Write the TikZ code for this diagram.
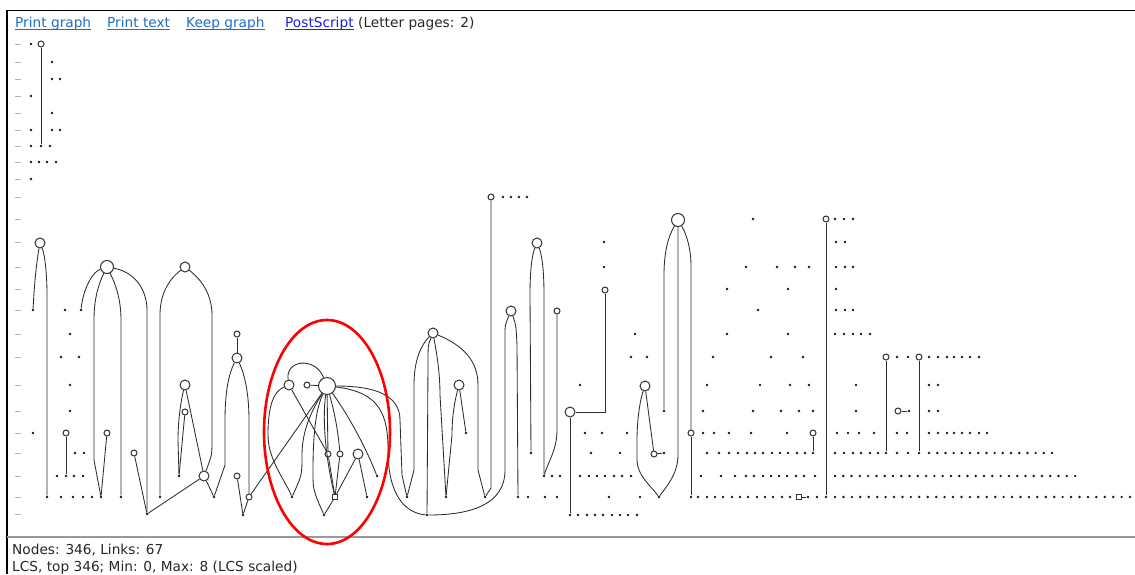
\documentclass[tikz,border=0pt]{standalone}
\usepackage{fontspec}
\setmainfont{DejaVu Sans}
\definecolor{linkblue}{RGB}{30,110,200}
\definecolor{psblue}{RGB}{30,30,230}
\definecolor{txt}{RGB}{40,40,40}
\definecolor{edgec}{RGB}{45,45,45}
\tikzset{
  gdot/.style={circle,fill=black!90,inner sep=0pt,minimum size=2.7pt},
  cirS/.style={circle,draw=black!80,fill=white,line width=1pt,inner sep=0pt,minimum size=6pt},
  cirM/.style={cirS,minimum size=10pt},
  cirL/.style={cirS,minimum size=13pt},
  cirXL/.style={cirS,minimum size=17pt},
  sqbox/.style={rectangle,draw=black!80,fill=white,line width=1pt,inner sep=0pt,minimum size=5pt},
  edgeln/.style={draw=edgec,line width=0.85pt},
  lblmark/.style={draw=black!30,line width=0.8pt},
  hdtext/.style={inner sep=0pt,anchor=base west,font=\fontsize{13.7}{16}\selectfont},
}
\newcommand\mydotrow[2]{\foreach \x in {#2}{\node[gdot] (d#1-\x) at (\x,#1) {};}}
\begin{document}
\begin{tikzpicture}[x=1pt,y=-1pt]
\useasboundingbox (0,0) rectangle (1135,574);
\fill[white] (0,0) rectangle (1135,574);
% frame
\draw[black,line width=1.5pt] (6,10.5) -- (1135,10.5);
\draw[black,line width=2pt] (7,10) -- (7,574);
\draw[black!40,line width=2pt] (7,537) -- (1135,537);
% header
\node[hdtext,text=linkblue] (p1) at (15,27) {Print graph};
\node[hdtext,text=linkblue] (p2) at (107,27) {Print text};
\node[hdtext,text=linkblue] (p3) at (186,27) {Keep graph};
\node[hdtext,text=psblue] (p4) at (285,27) {PostScript};
\node[hdtext,text=txt] (p5) at (358,27) {(Letter pages: 2)};
\foreach \n/\c in {p1/linkblue,p2/linkblue,p3/linkblue,p4/psblue}
  \draw[\c,line width=0.8pt] ([yshift=-2.2pt]\n.base west) -- ([yshift=-2.2pt]\n.base east);
% footer
\node[hdtext,text=txt] (n1) at (12,554) {Nodes: 346, Links: 67};
\node[hdtext,text=txt] (n2) at (12,571) {LCS, top 346; Min: 0, Max: 8 (LCS scaled)};
% row labels
\foreach \y in {44,62,79,96,113,130,146,162,179,197,219,242,267,289,310,334,357,385,411,433,453,476,497,514}
  \draw[lblmark] (15,\y) -- (21,\y);
% ---------- top-left
\node[cirS] (t0) at (41,44) {};
\mydotrow{44}{31}
\mydotrow{62}{52}
\mydotrow{79}{52,60}
\mydotrow{96}{31}
\mydotrow{113}{52}
\mydotrow{130}{31,52,60}
\mydotrow{146}{31,41,50}
\mydotrow{162}{31,39,47,56}
\mydotrow{179}{31}
\draw[edgeln] (t0) -- (d146-41);
% ---------- section A
\node[cirM] (a1) at (40,243) {};
\mydotrow{310}{33,65,81}
\node[cirL] (a5) at (107,267) {};
\mydotrow{334}{70}
\mydotrow{357}{61,79}
\mydotrow{385}{70}
\mydotrow{411}{70}
\mydotrow{433}{33}
\node[cirS] (a2) at (66,433) {};
\node[cirS] (a3) at (107,433) {};
\mydotrow{453}{75,84}
\node[cirS] (a4) at (134,453) {};
\mydotrow{476}{57,66,74,83,179}
\mydotrow{497}{47,61,73,83,92,101,121,160,214}
\node[gdot] (v1) at (147,514) {};
\node[cirM] (a6) at (204,476) {};
\node[cirM] (a7) at (185,267) {};
\node[cirM] (a8) at (185,385) {};
\node[cirS] (a9) at (185,412) {};
\node[cirM] (a10) at (237,358) {};
\node[cirS] (a11) at (237,334) {};
\node[cirS] (a12) at (249,497) {};
\node[cirS] (a13) at (237,476) {};
\node[gdot] (v3) at (243,515) {};
% ---------- cluster B
\node[cirXL] (b1) at (327,386) {};
\node[cirM] (b2) at (289,385) {};
\node[cirS] (b3) at (307,385) {};
\node[cirS] (b4) at (328,454) {};
\node[cirS] (b5) at (340,454) {};
\node[cirM] (b6) at (358,454) {};
\node[gdot] (bd1) at (292,497) {};
\node[gdot] (bd2) at (324,515) {};
\node[sqbox] (bs3) at (335,497) {};
\node[gdot] (bd4) at (367,497) {};
\node[gdot] (bd5) at (377,476) {};
% ---------- cluster C
\node[gdot] (v4) at (407,497) {};
\node[gdot] (v5) at (427,515) {};
\node[gdot] (v6) at (446,497) {};
\node[gdot] (v7) at (485,497) {};
\node[cirM] (c1) at (433,333) {};
\node[cirM] (c2) at (459,385) {};
\node[gdot] (cd2) at (466,433) {};
\node[cirS] (c0) at (491,197) {};
\mydotrow{197}{503,511,519,527}
\node[cirM] (c3) at (511,311) {};
\node[cirM] (c4) at (537,243) {};
\node[cirS] (c5) at (557,311) {};
\node[gdot] (v8) at (544,476) {};
\mydotrow{497}{518,528,545,557,609,640,691,698,707,715,723,732,740,748,757,765,773,782,790,808,817,826}
\mydotrow{476}{552,560,580,589,597,605,614,622,631}
\mydotrow{453}{531,591,620,664}
\node[cirS] (c6) at (605,290) {};
\node[cirM] (c7) at (570,412) {};
\mydotrow{515}{570,578,587,595,603,612,620,628,637}
\mydotrow{242}{604}
\mydotrow{267}{604}
\mydotrow{385}{580}
\mydotrow{433}{585,602,627}
\mydotrow{334}{635}
\mydotrow{357}{631,647}
\node[cirM] (c8) at (645,386) {};
\node[cirS] (c9) at (654,454) {};
\node[gdot] (v9) at (659,497) {};
\mydotrow{411}{664}
\node[cirL] (c10) at (678,220) {};
\node[cirS] (c11) at (691,433) {};
% ---------- right section
\node[cirS] (e1) at (826,219) {};
\node[cirS] (e2) at (886,357) {};
\node[cirS] (e3) at (919,357) {};
\node[cirS] (e4) at (813,433) {};
\node[cirS] (e5) at (898,411) {};
\node[sqbox] (e6) at (799,497) {};
\mydotrow{219}{753,835,844,853}
\mydotrow{242}{836,845}
\mydotrow{267}{746,777,795,809,836,845,853}
\mydotrow{289}{727,788,836}
\mydotrow{310}{758,836,845,853}
\mydotrow{334}{727,788,835,844,853,861,870}
\mydotrow{357}{713,771,803,897,908,929,938,947,954,962,970,979}
\mydotrow{385}{707,760,790,809,856,929,938}
\mydotrow{411}{703,753,781,799,813,856,909,929,938}
\mydotrow{433}{703,714,729,751,787,837,848,859,874,897,907,929,938,947,954,962,970,979,987}
\mydotrow{453}{707,719,729,738,747,755,763,772,780,788,797,805,813,835,844,853,861,870,878,886,897,908,919}
\foreach \i in {0,...,15}{\pgfmathsetmacro\xx{929+\i*8.2}\node[gdot] (f453-\i) at (\xx,453) {};}
\mydotrow{476}{701,721,735,746,754,763,771,779,787,796,804,815}
\foreach \i in {0,...,29}{\pgfmathsetmacro\xx{835+\i*8.28}\node[gdot] (f476-\i) at (\xx,476) {};}
\foreach \i in {0,...,35}{\pgfmathsetmacro\xx{835+\i*8.43}\node[gdot] (f497-\i) at (\xx,497) {};}
% ---------- edges: top / section A
\draw[edgeln] (a1) .. controls (36,265) and (34,290) .. (d310-33);
\draw[edgeln] (a1) .. controls (45,255) and (47,275) .. (47,295) -- (d497-47);
\draw[edgeln] (a2) -- (d476-66);
\draw[edgeln] (a3) -- (d497-101);
\draw[edgeln] (a5) .. controls (92,272) and (83,290) .. (d310-81);
\draw[edgeln] (a5) .. controls (98,285) and (94,300) .. (94,320) -- (94,460) -- (d497-101);
\draw[edgeln] (a5) .. controls (116,285) and (121,300) .. (121,320) -- (d497-121);
\draw[edgeln] (a5) .. controls (135,272) and (147,290) .. (147,310) -- (v1);
\draw[edgeln] (a4) -- (v1);
\draw[edgeln] (v1) -- (a6);
\draw[edgeln] (a7) .. controls (168,280) and (160,295) .. (160,315) -- (d497-160);
\draw[edgeln] (a7) .. controls (202,280) and (212,295) .. (212,315) -- (212,440) .. controls (212,455) .. (a6);
\draw[edgeln] (a8) .. controls (181,400) and (178,420) .. (178,440) -- (d476-179);
\draw[edgeln] (a8) -- (a6);
\draw[edgeln] (a9) -- (d476-179);
\draw[edgeln] (a6) -- (d497-214);
\draw[edgeln] (a10) .. controls (228,375) and (225,395) .. (225,420) -- (225,465) -- (d497-214);
\draw[edgeln] (a11) -- (a10);
\draw[edgeln] (a10) .. controls (245,375) and (249,395) .. (249,420) -- (a12);
\draw[edgeln] (a13) -- (v3);
\draw[edgeln] (v3) -- (a12);
\draw[edgeln] (a12) -- (b1);
% ---------- edges: cluster B
\draw[edgeln] (b2) .. controls (285,360) and (315,356) .. (b1);
\draw[edgeln] (b3) -- (b1);
\draw[edgeln] (b2) .. controls (272,392) and (268,410) .. (268,435) .. controls (268,460) and (285,480) .. (bd1);
\draw[edgeln] (b2) -- (b4);
\draw[edgeln] (b1) .. controls (312,410) and (302,430) .. (302,455) .. controls (302,475) .. (bd1);
\draw[edgeln] (b1) .. controls (315,410) and (313,440) .. (313,470) .. controls (313,490) .. (bd2);
\draw[edgeln] (bd2) -- (bs3);
\draw[edgeln] (b1) -- (b4);
\draw[edgeln] (b1) .. controls (334,410) and (338,430) .. (b5);
\draw[edgeln] (b1) .. controls (322,420) and (326,460) .. (bs3);
\draw[edgeln] (b4) -- (bs3);
\draw[edgeln] (b5) -- (bs3);
\draw[edgeln] (b6) -- (bs3);
\draw[edgeln] (b6) -- (bd4);
\draw[edgeln] (b1) .. controls (345,410) and (365,445) .. (bd5);
\draw[edgeln] (b1) .. controls (375,386) and (400,395) .. (400,420) -- (402,475) -- (v4);
\draw[edgeln] (b1) .. controls (380,392) and (388,415) .. (388,450) .. controls (388,495) and (405,513) .. (v5);
% ---------- edges: cluster C
\draw[edgeln] (c1) .. controls (421,345) and (414,360) .. (414,385) -- (414,470) -- (v4);
\draw[edgeln] (c1) .. controls (428,345) .. (428,365) -- (v5);
\draw[edgeln] (c1) .. controls (436,350) and (440,370) .. (440,395) -- (v6);
\draw[edgeln] (c1) .. controls (462,345) and (478,360) .. (478,385) -- (478,470) -- (v7);
\draw[edgeln] (c2) .. controls (455,400) and (452,415) .. (452,435) -- (v6);
\draw[edgeln] (c2) -- (cd2);
\draw[edgeln] (c0) -- (491,488) -- (v7);
\draw[edgeln] (v5) .. controls (470,515) and (505,505) .. (505,470) -- (505,335) .. controls (505,325) .. (c3);
\draw[edgeln] (c3) .. controls (516,325) .. (517,345) -- (d497-518);
\draw[edgeln] (c4) .. controls (532,255) and (530,270) .. (530,295) -- (d453-531);
\draw[edgeln] (c4) .. controls (542,255) and (544,270) .. (544,295) -- (v8);
\draw[edgeln] (c5) -- (557,430) .. controls (557,450) and (548,462) .. (v8);
\draw[edgeln] (c6) |- (c7);
\draw[edgeln] (c7) -- (d515-570);
\draw[edgeln] (c8) -- (c9);
\draw[edgeln] (c9) -- (d453-664);
\draw[edgeln] (c8) .. controls (640,400) and (637,420) .. (637,440) -- (637,460) .. controls (637,475) and (650,485) .. (v9);
\draw[edgeln] (c10) .. controls (669,235) and (664,250) .. (664,275) -- (d411-664);
\draw[edgeln] (c10) -- (678,455) .. controls (678,475) and (665,488) .. (v9);
\draw[edgeln] (c10) .. controls (687,235) and (691,250) .. (691,265) -- (c11);
\draw[edgeln] (c11) -- (d497-691);
% ---------- edges: right
\draw[edgeln] (e1) -- (d497-826);
\draw[edgeln] (e2) -- (d453-886);
\draw[edgeln] (e3) -- (d453-919);
\draw[edgeln] (e4) -- (d453-813);
\draw[edgeln] (e5) -- (d411-909);
\draw[edgeln] (e6) -- (d497-808);
% red ellipse
\draw[red,line width=2.6pt] (327,432) ellipse [x radius=63pt, y radius=112pt];
\end{tikzpicture}
\end{document}
